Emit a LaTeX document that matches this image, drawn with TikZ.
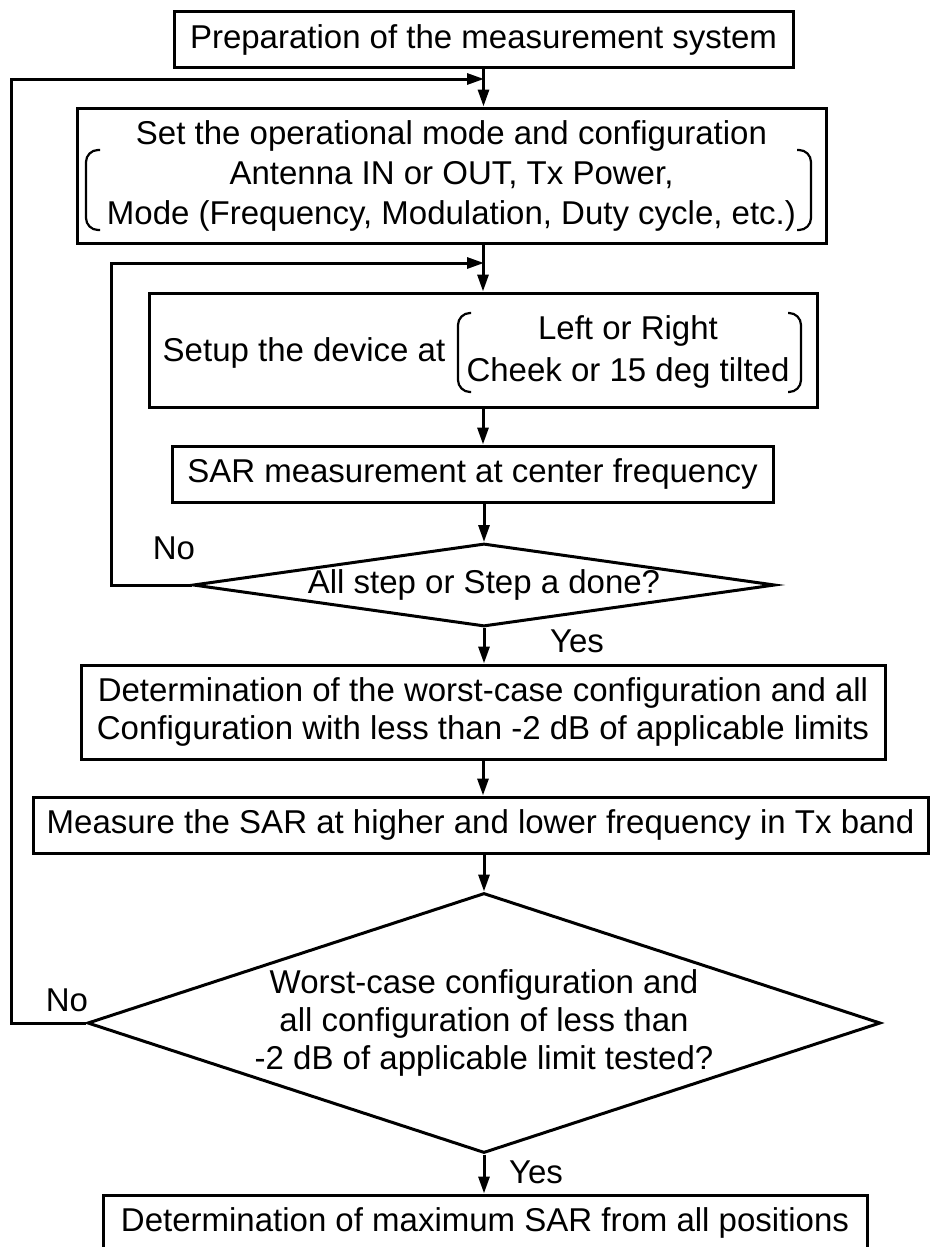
\documentclass[tikz,border=0pt]{standalone}
\usepackage{fontspec}
\setmainfont{Liberation Sans}
\usepackage{tikz}
\usetikzlibrary{arrows.meta, shapes}
\tikzset{
  stepbox/.style={draw=black,line width=3pt,minimum height=56pt,inner sep=0pt,align=center},
  decnode/.style={diamond,draw=black,line width=3pt,inner sep=0pt,align=center},
  txtnode/.style={inner sep=0pt,align=center},
  lblnode/.style={inner sep=0pt},
  flowedge/.style={-{Triangle[length=17pt,width=11pt]},line width=3pt},
  brk/.style={line width=2.2pt,rounded corners=12pt},
}

\begin{document}
\begin{tikzpicture}[x=1pt,y=-1pt,font=\fontsize{33}{40}\selectfont]
  \useasboundingbox (0,0) rectangle (930,1247);
  \node[stepbox,minimum width=619pt] (nPrep) at (483.5,40) {Preparation of the measurement system};
  \node[stepbox,minimum width=749pt,minimum height=135pt] (nMode) at (451.5,175.5)
    {Set the operational mode and configuration\\Antenna IN or OUT, Tx Power,\\Mode (Frequency, Modulation, Duty cycle, etc.)};
  \draw[brk] (100,150) -- (86,150) -- (86,230) -- (100,230);
  \draw[brk] (797,150) -- (811,150) -- (811,230) -- (797,230);
  \node[stepbox,minimum width=668pt,minimum height=114pt] (nSetup) at (483,350) {};
  \node[txtnode] (nSetupAt) at (304,353) {Setup the device at};
  \node[txtnode,font=\fontsize{33}{42}\selectfont] (nSetupPos) at (628,352) {Left or Right\\Cheek or 15 deg tilted};
  \draw[brk] (471,313) -- (458,313) -- (458,392) -- (471,392);
  \draw[brk] (788,313) -- (801,313) -- (801,392) -- (788,392);
  \node[stepbox,minimum width=601pt] (nMeas) at (472.5,474) {SAR measurement at center frequency};
  \node[decnode,minimum width=582pt,minimum height=83pt,shape aspect=7] (dDone) at (484,585) {All step or Step a done?};
  \node[stepbox,minimum width=804pt,minimum height=94pt,font=\fontsize{33}{38}\selectfont] (nWorst) at (483,712)
    {Determination of the worst-case configuration and all\\Configuration with less than -2 dB of applicable limits};
  \node[stepbox,minimum width=895pt] (nBand) at (480.5,825) {Measure the SAR at higher and lower frequency in Tx band};
  \node[decnode,minimum width=793pt,minimum height=260pt,shape aspect=3,font=\fontsize{33}{38}\selectfont] (dTested) at (484,1023)
    {Worst-case configuration and\\all configuration of less than\\-2 dB of applicable limit tested?};
  \node[stepbox,minimum width=764pt] (nMax) at (485,1223) {Determination of maximum SAR from all positions};

  \node[lblnode] (lNoDone) at (174,548) {No};
  \node[lblnode] (lYesDone) at (577,641) {Yes};
  \node[lblnode] (lNoTested) at (67,1000) {No};
  \node[lblnode] (lYesTested) at (536,1172) {Yes};

  \coordinate (cJoinTop) at (484,79);
  \coordinate (cJoinMid) at (484,263);
  \coordinate (cLoopTop) at (11,79);
  \coordinate (cLoopMid) at (111,263);

  \draw[flowedge] (nPrep.south) -- (nPrep.south |- nMode.north);
  \draw[flowedge] (nSetup.north |- nMode.south) -- (nSetup.north);
  \draw[flowedge] (nSetup.south) -- (nSetup.south |- nMeas.north);
  \draw[flowedge] (dDone.north |- nMeas.south) -- (dDone.north);
  \draw[flowedge] (dDone.south) -- (dDone.south |- nWorst.north);
  \draw[flowedge] (nWorst.south) -- (nWorst.south |- nBand.north);
  \draw[flowedge] (dTested.north |- nBand.south) -- (dTested.north);
  \draw[flowedge] (dTested.south) -- (dTested.south |- nMax.north);
  \draw[flowedge] (dDone.west) -| (cLoopMid) -- (cJoinMid);
  \draw[flowedge] (dTested.west) -| (cLoopTop) -- (cJoinTop);
\end{tikzpicture}
\end{document}
